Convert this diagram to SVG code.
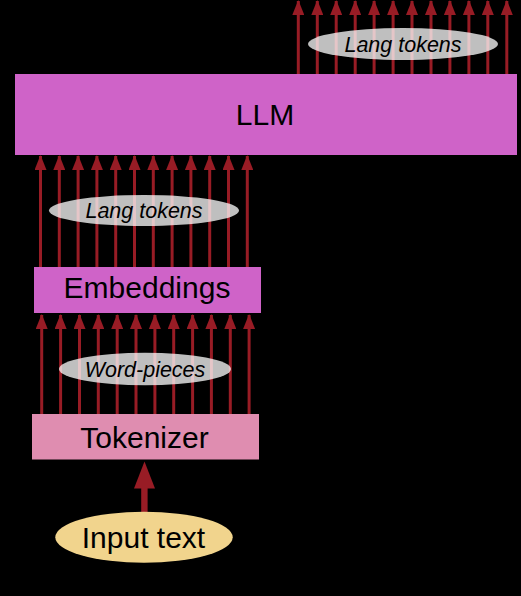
<svg xmlns="http://www.w3.org/2000/svg" width="521" height="596" viewBox="0 0 521 596">
<defs>
<style>
.bg{fill:#000}
.box{fill:#CF63C8}
.tok{fill:#DF8DB0}
.arr{stroke:#981C25;stroke-width:3;fill:none}
.head{fill:#981C25}
.lbl{fill:#FFFFFF;fill-opacity:0.75}
.t{font-family:"Liberation Sans",Arial,sans-serif;fill:#000;text-anchor:middle}
.it{font-style:italic;font-size:21.5px}
.big{font-size:30px}
</style>
<marker id="ah" viewBox="0 0 15 12" refX="14" refY="6" markerWidth="15" markerHeight="12" markerUnits="userSpaceOnUse" orient="auto">
<path d="M0,0 L15,6 L0,12 z" class="head"/>
</marker>
</defs>
<rect class="bg" x="0" y="0" width="521" height="596"/>
<g id="connectors">
<g id="top-arrows" class="arr" marker-end="url(#ah)">
<line x1="298.3" y1="74" x2="298.3" y2="1"/>
<line x1="317.3" y1="74" x2="317.3" y2="1"/>
<line x1="336.2" y1="74" x2="336.2" y2="1"/>
<line x1="355.2" y1="74" x2="355.2" y2="1"/>
<line x1="374.1" y1="74" x2="374.1" y2="1"/>
<line x1="393.1" y1="74" x2="393.1" y2="1"/>
<line x1="412.0" y1="74" x2="412.0" y2="1"/>
<line x1="431.0" y1="74" x2="431.0" y2="1"/>
<line x1="449.9" y1="74" x2="449.9" y2="1"/>
<line x1="468.9" y1="74" x2="468.9" y2="1"/>
<line x1="487.8" y1="74" x2="487.8" y2="1"/>
<line x1="506.8" y1="74" x2="506.8" y2="1"/>
</g>
<g id="mid-arrows" class="arr" marker-end="url(#ah)">
<line x1="40.5" y1="267" x2="40.5" y2="156"/>
<line x1="59.3" y1="267" x2="59.3" y2="156"/>
<line x1="78.1" y1="267" x2="78.1" y2="156"/>
<line x1="96.9" y1="267" x2="96.9" y2="156"/>
<line x1="115.7" y1="267" x2="115.7" y2="156"/>
<line x1="134.5" y1="267" x2="134.5" y2="156"/>
<line x1="153.3" y1="267" x2="153.3" y2="156"/>
<line x1="172.1" y1="267" x2="172.1" y2="156"/>
<line x1="190.9" y1="267" x2="190.9" y2="156"/>
<line x1="209.7" y1="267" x2="209.7" y2="156"/>
<line x1="228.5" y1="267" x2="228.5" y2="156"/>
<line x1="247.3" y1="267" x2="247.3" y2="156"/>
</g>
<g id="low-arrows" class="arr" marker-end="url(#ah)">
<line x1="41.7" y1="414" x2="41.7" y2="315"/>
<line x1="60.6" y1="414" x2="60.6" y2="315"/>
<line x1="79.5" y1="414" x2="79.5" y2="315"/>
<line x1="98.3" y1="414" x2="98.3" y2="315"/>
<line x1="117.2" y1="414" x2="117.2" y2="315"/>
<line x1="136.0" y1="414" x2="136.0" y2="315"/>
<line x1="154.9" y1="414" x2="154.9" y2="315"/>
<line x1="173.7" y1="414" x2="173.7" y2="315"/>
<line x1="192.6" y1="414" x2="192.6" y2="315"/>
<line x1="211.4" y1="414" x2="211.4" y2="315"/>
<line x1="230.3" y1="414" x2="230.3" y2="315"/>
<line x1="249.1" y1="414" x2="249.1" y2="315"/>
</g>
<g id="input-arrow">
<rect class="head" x="141.2" y="486" width="6.4" height="26"/>
<path class="head" d="M144.5,461.5 L155,488.5 L134,488.5 z"/>
</g>
</g>
<g id="llm">
<rect class="box" x="15" y="74" width="502" height="81"/>
<text class="t big" x="265" y="124.5">LLM</text>
</g>
<g id="lang-tokens-out">
<ellipse class="lbl" cx="403" cy="44" rx="95" ry="16"/>
<text class="t it" x="403" y="51.5">Lang tokens</text>
</g>
<g id="lang-tokens-in">
<ellipse class="lbl" cx="144" cy="210.5" rx="95" ry="15.5"/>
<text class="t it" x="144" y="217.5">Lang tokens</text>
</g>
<g id="embeddings">
<rect class="box" x="34" y="267" width="227" height="46"/>
<text class="t big" x="147" y="298">Embeddings</text>
</g>
<g id="word-pieces">
<ellipse class="lbl" cx="145" cy="369" rx="86" ry="16.3"/>
<text class="t it" x="145" y="376.5">Word-pieces</text>
</g>
<g id="tokenizer">
<rect class="tok" x="32" y="414" width="227" height="45.5"/>
<text class="t big" x="144.5" y="447.5">Tokenizer</text>
</g>
<g id="input-text">
<ellipse cx="144" cy="537.2" rx="88.7" ry="25.5" fill="#F1D48D"/>
<text class="t big" x="143.5" y="548">Input text</text>
</g>
</svg>
